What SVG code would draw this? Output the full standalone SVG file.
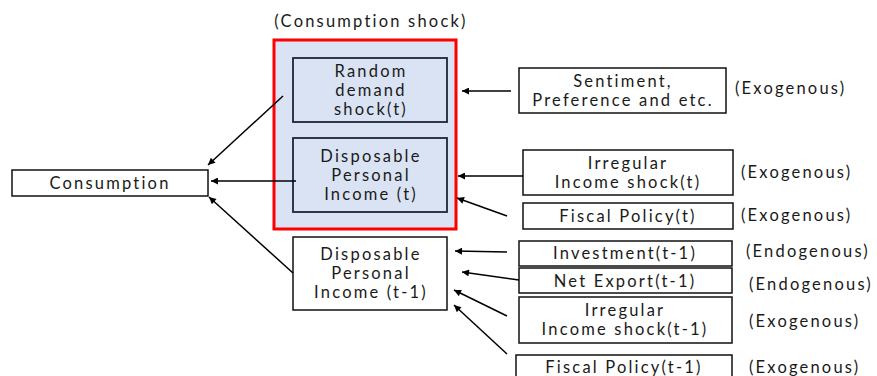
<svg xmlns="http://www.w3.org/2000/svg" width="877" height="376" viewBox="0 0 877 376">
<defs>
<marker id="ah" viewBox="0 0 10 10" refX="10" refY="5" markerWidth="9" markerHeight="7" markerUnits="userSpaceOnUse" orient="auto">
<path d="M0,0 L10,5 L0,10 z" fill="#000"/>
</marker>
<style>
.t{font-family:Lato,"Open Sans",sans-serif;font-size:16.5px;fill:#1a1a1a;text-anchor:middle;dominant-baseline:central;letter-spacing:2.2px}
.l{font-family:Lato,"Open Sans",sans-serif;font-size:16.5px;fill:#1a1a1a;dominant-baseline:central;letter-spacing:2.2px}
.w{fill:#fff;stroke:#111;stroke-width:1.5}
.b{fill:#dae3f3;stroke:#1c2536;stroke-width:1.8}
.c{fill:none;stroke:#000;stroke-width:1.5;marker-end:url(#ah)}
</style>
</defs>
<rect width="877" height="376" fill="#fff"/>
<g id="group-shock">
<text class="t" x="371" y="21">(Consumption shock)</text>
<rect x="274" y="40" width="182" height="189" fill="#dae3f3" stroke="#f00" stroke-width="3"/>
</g>
<g id="random">
<rect class="b" x="293" y="58" width="154" height="64"/>
<text class="t" x="371" y="71">Random</text>
<text class="t" x="371" y="90">demand</text>
<text class="t" x="371" y="109">shock(t)</text>
</g>
<g id="dpi-t">
<rect class="b" x="293" y="138" width="154" height="74"/>
<text class="t" x="371" y="156">Disposable</text>
<text class="t" x="371" y="175">Personal</text>
<text class="t" x="371" y="194">Income (t)</text>
</g>
<g id="consumption">
<rect class="w" x="12" y="170" width="196" height="26"/>
<text class="t" x="110" y="183">Consumption</text>
</g>
<g id="dpi-t1">
<rect class="w" x="293" y="237" width="154" height="73" stroke-width="2"/>
<text class="t" x="371" y="254">Disposable</text>
<text class="t" x="371" y="273">Personal</text>
<text class="t" x="371" y="292">Income (t-1)</text>
</g>
<g id="sentiment">
<rect class="w" x="519" y="68" width="207" height="45"/>
<text class="t" x="623" y="81">Sentiment,</text>
<text class="t" x="623" y="100">Preference and etc.</text>
<text class="l" x="735" y="88">(Exogenous)</text>
</g>
<g id="irregular-t">
<rect class="w" x="523" y="150" width="210" height="45"/>
<text class="t" x="628" y="163">Irregular</text>
<text class="t" x="628" y="182">Income shock(t)</text>
<text class="l" x="741" y="172">(Exogenous)</text>
</g>
<g id="fiscal-t">
<rect class="w" x="523" y="203" width="210" height="26"/>
<text class="t" x="628" y="216">Fiscal Policy(t)</text>
<text class="l" x="741" y="215">(Exogenous)</text>
</g>
<g id="investment">
<rect class="w" x="519" y="241" width="213" height="25"/>
<text class="t" x="625" y="253">Investment(t-1)</text>
<text class="l" x="746" y="251">(Endogenous)</text>
</g>
<g id="netexport">
<rect class="w" x="519" y="268" width="213" height="25"/>
<text class="t" x="625" y="281">Net Export(t-1)</text>
<text class="l" x="749" y="284">(Endogenous)</text>
</g>
<g id="irregular-t1">
<rect class="w" x="519" y="297" width="213" height="46"/>
<text class="t" x="625" y="310">Irregular</text>
<text class="t" x="625" y="329">Income shock(t-1)</text>
<text class="l" x="749" y="321">(Exogenous)</text>
</g>
<g id="fiscal-t1">
<rect class="w" x="516" y="355" width="216" height="30"/>
<text class="t" x="624" y="367">Fiscal Policy(t-1)</text>
<text class="l" x="749" y="367">(Exogenous)</text>
</g>
<g id="connectors">
<line class="c" x1="283" y1="96" x2="208" y2="165"/>
<line class="c" x1="296" y1="181" x2="211" y2="181"/>
<line class="c" x1="293" y1="273" x2="209" y2="197"/>
<line class="c" x1="511" y1="91" x2="462" y2="91"/>
<line class="c" x1="523" y1="176" x2="458" y2="176"/>
<line class="c" x1="507" y1="216" x2="457" y2="198"/>
<line class="c" x1="507" y1="252" x2="455" y2="251"/>
<line class="c" x1="519" y1="280" x2="462" y2="272"/>
<line class="c" x1="507" y1="316" x2="454" y2="290"/>
<line class="c" x1="507" y1="354" x2="454" y2="305"/>
</g>
</svg>
